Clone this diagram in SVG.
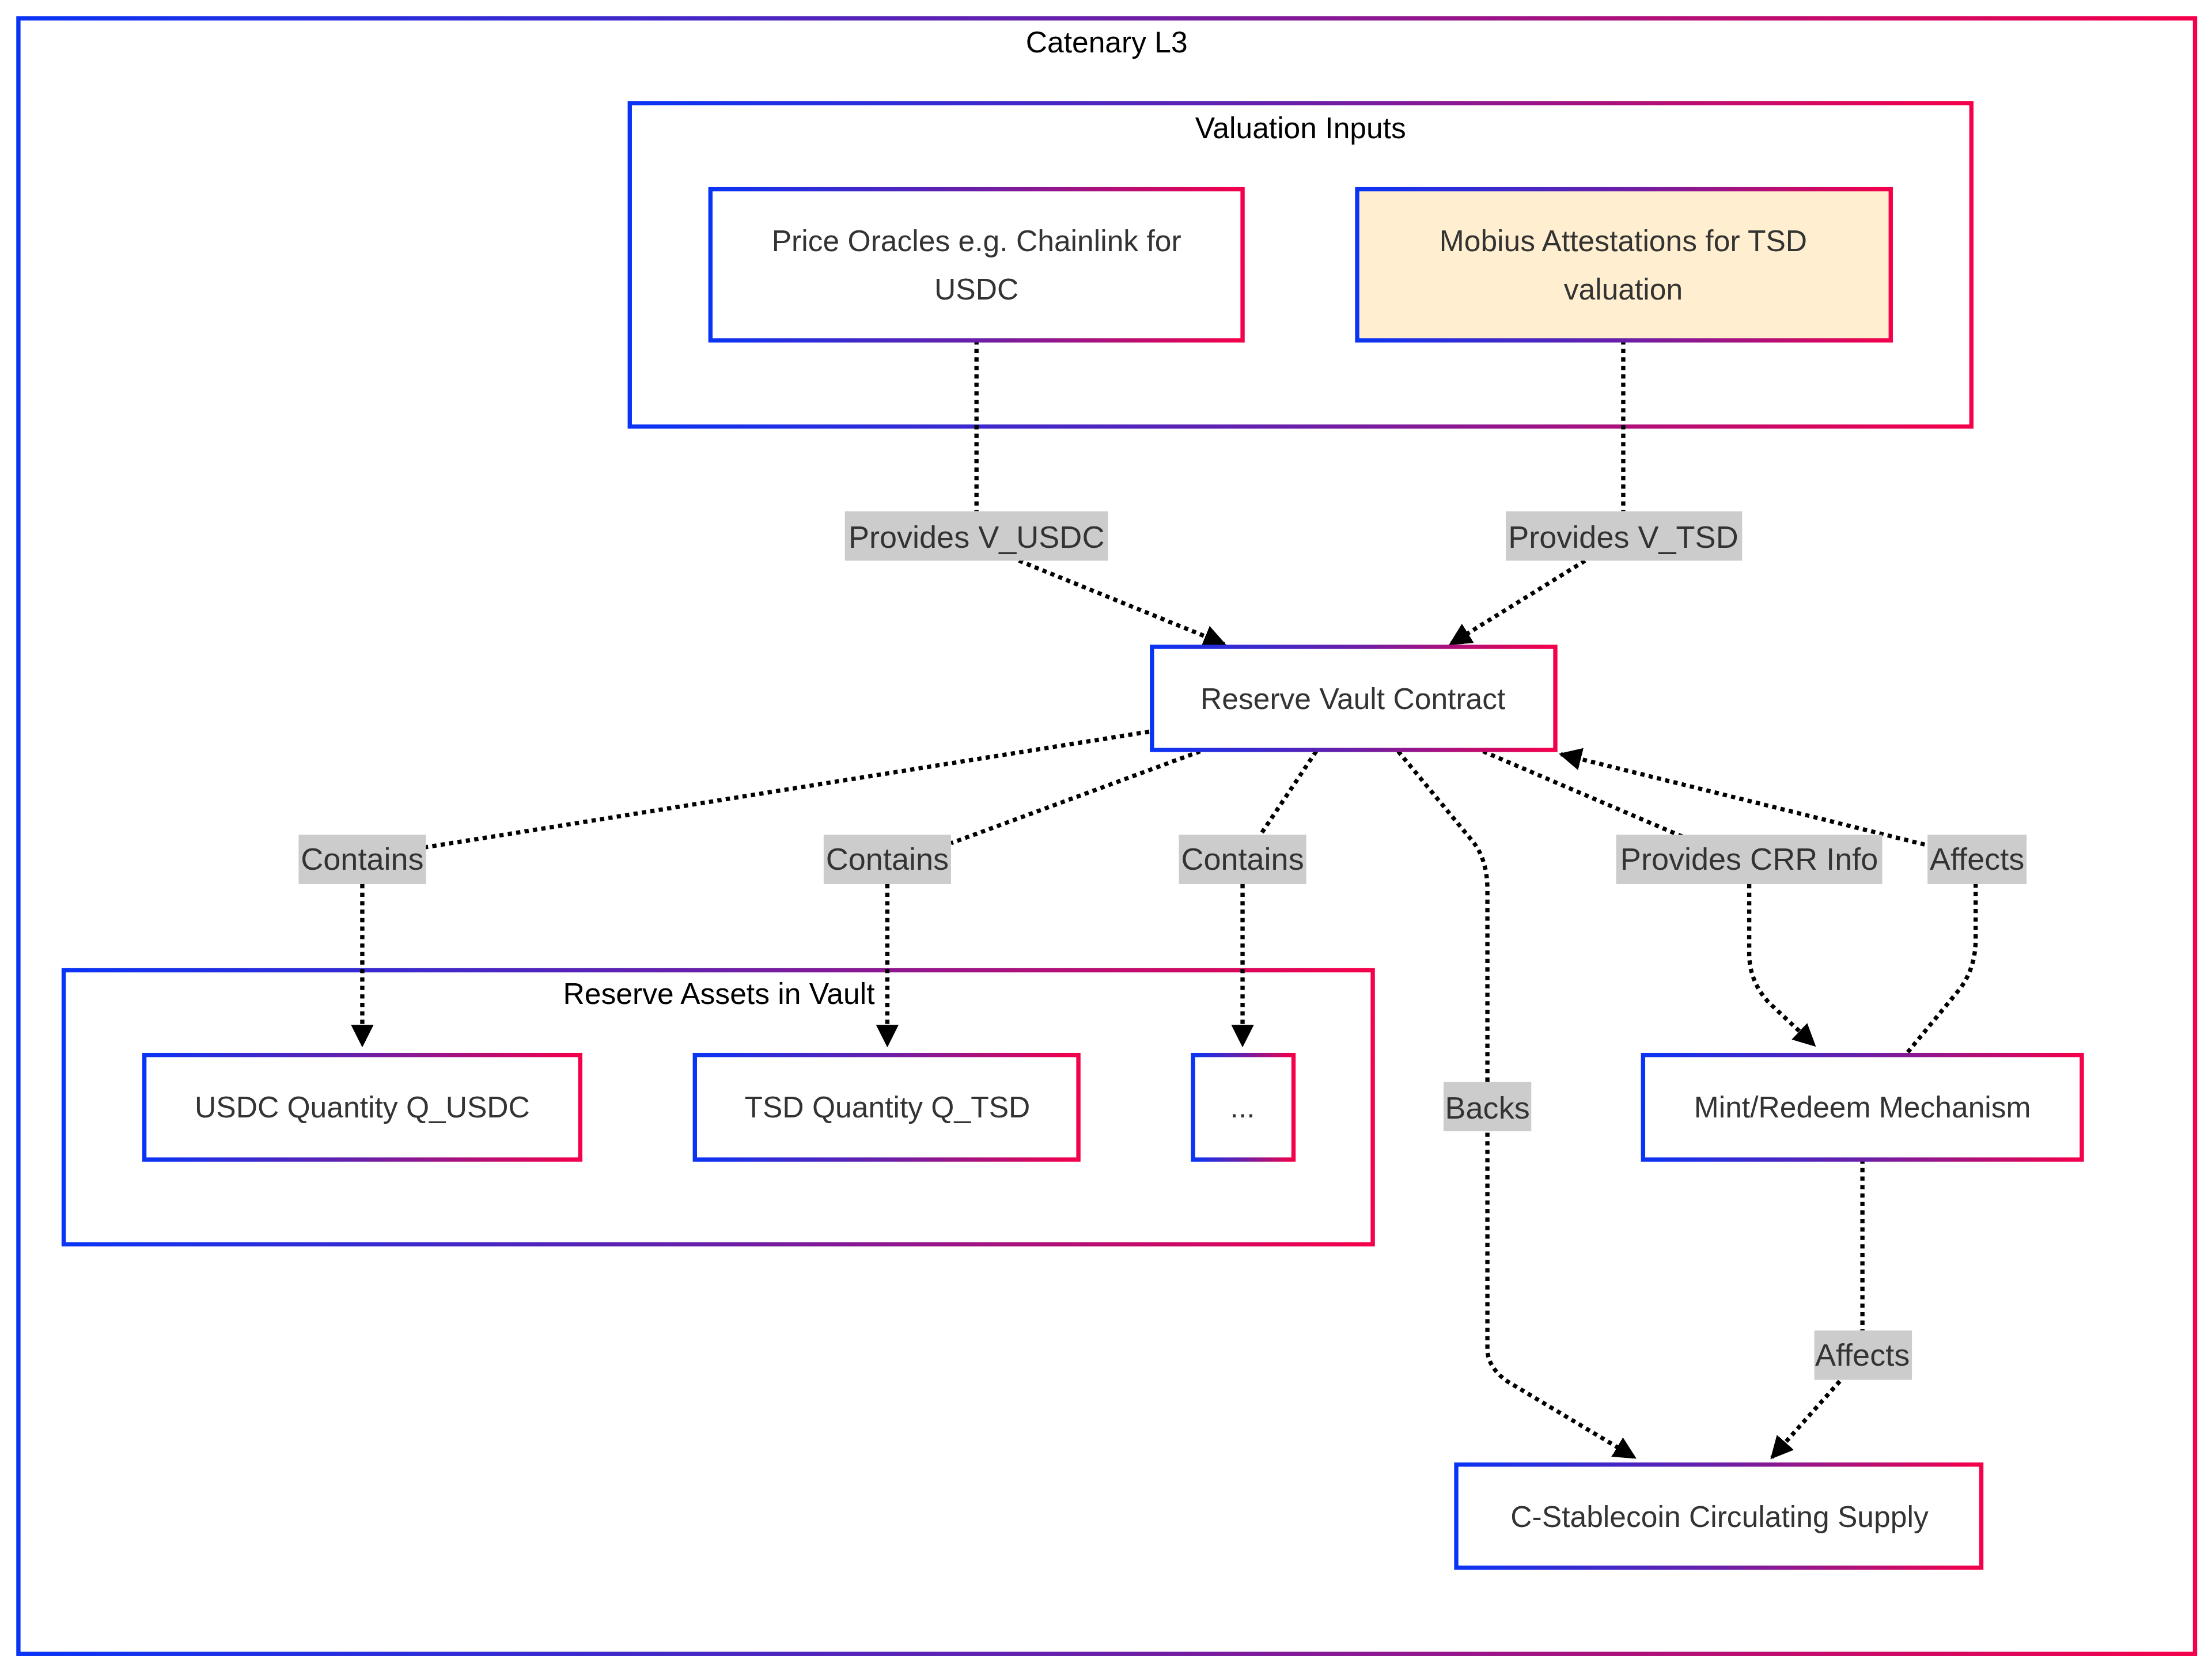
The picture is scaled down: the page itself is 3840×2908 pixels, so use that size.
<svg xmlns="http://www.w3.org/2000/svg" width="3840" height="2908" viewBox="0 0 3840 2908">
<defs>
<linearGradient id="g" x1="0" y1="0" x2="1" y2="0"><stop offset="0" stop-color="#0a34f5"/><stop offset="0.5" stop-color="#6a1fa8"/><stop offset="1" stop-color="#f5004a"/></linearGradient>
<marker id="a" viewBox="0 0 10 10" refX="9" refY="5" markerWidth="16" markerHeight="16" markerUnits="userSpaceOnUse" orient="auto"><path d="M0,0L10,5L0,10z" fill="#000"/></marker>
</defs>
<style>
.c{fill:none;stroke:url(#g);stroke-width:3}
.n{fill:#fff;stroke:url(#g);stroke-width:3}
.t{font-family:"Liberation Sans",Arial,sans-serif;font-size:21px;fill:#333;text-anchor:middle}
.ct{font-family:"Liberation Sans",Arial,sans-serif;font-size:21px;fill:#000;text-anchor:middle}
.e{fill:none;stroke:#000;stroke-width:3;stroke-dasharray:3 3}
.lb{fill:#cccccc}
.lt{font-family:"Liberation Sans",Arial,sans-serif;font-size:22px;fill:#333;text-anchor:middle}
</style>
<rect width="3840" height="2908" fill="#fff"/>
<g transform="scale(2.4568 2.452)">
<g id="catenary"><rect class="c" x="13" y="13" width="1538" height="1158"/><text class="ct" x="782" y="37">Catenary L3</text></g>
<g id="valuation"><rect class="c" x="445" y="73" width="948" height="229"/><text class="ct" x="919" y="98">Valuation Inputs</text></g>
<g id="reserveAssets"><rect class="c" x="45" y="687" width="925" height="194"/><text class="ct" x="508" y="711">Reserve Assets in Vault</text></g>
<g id="edges">
<path class="e" d="M690,241V362"/><path class="e" d="M720,397L865,456" marker-end="url(#a)"/>
<path class="e" d="M1147,241V362"/><path class="e" d="M1120,397L1025,456" marker-end="url(#a)"/>
<path class="e" d="M812,518L300,600"/><path class="e" d="M256,626V740" marker-end="url(#a)"/>
<path class="e" d="M848,532L672,597"/><path class="e" d="M627,626V740" marker-end="url(#a)"/>
<path class="e" d="M930,532L890,592"/><path class="e" d="M878,626V740" marker-end="url(#a)"/>
<path class="e" d="M988,532L1040,595Q1051,608 1051,630V766"/><path class="e" d="M1051,802V955Q1051,968 1065,978L1155,1032" marker-end="url(#a)"/>
<path class="e" d="M1048,532L1195,595"/><path class="e" d="M1236,626V675Q1236,695 1250,710L1282,740" marker-end="url(#a)"/>
<path class="e" d="M1348,745L1385,700Q1396,685 1396,665V626"/><path class="e" d="M1360,598L1103,534" marker-end="url(#a)"/>
<path class="e" d="M1316,821V942"/><path class="e" d="M1300,978L1252,1032" marker-end="url(#a)"/>
</g>
<g id="labels">
<rect class="lb" x="597" y="362" width="186" height="35"/><text class="lt" x="690" y="388">Provides V_USDC</text>
<rect class="lb" x="1064" y="362" width="167" height="35"/><text class="lt" x="1147" y="388">Provides V_TSD</text>
<rect class="lb" x="211" y="591" width="90" height="35"/><text class="lt" x="256" y="616">Contains</text>
<rect class="lb" x="582" y="591" width="90" height="35"/><text class="lt" x="627" y="616">Contains</text>
<rect class="lb" x="833" y="591" width="90" height="35"/><text class="lt" x="878" y="616">Contains</text>
<rect class="lb" x="1142" y="591" width="188" height="35"/><text class="lt" x="1236" y="616">Provides CRR Info</text>
<rect class="lb" x="1362" y="591" width="70" height="35"/><text class="lt" x="1397" y="616">Affects</text>
<rect class="lb" x="1020" y="766" width="62" height="35"/><text class="lt" x="1051" y="792">Backs</text>
<rect class="lb" x="1282" y="942" width="69" height="35"/><text class="lt" x="1316" y="967">Affects</text>
</g>
<g id="priceOracles"><rect class="n" x="502" y="134" width="376" height="107"/><text class="t" x="690" y="178">Price Oracles e.g. Chainlink for</text><text class="t" x="690" y="212">USDC</text></g>
<g id="mobius"><rect class="n" x="959" y="134" width="377" height="107" style="fill:#ffefd0"/><text class="t" x="1147" y="178">Mobius Attestations for TSD</text><text class="t" x="1147" y="212">valuation</text></g>
<g id="vault"><rect class="n" x="814" y="458" width="285" height="73"/><text class="t" x="956" y="502">Reserve Vault Contract</text></g>
<g id="usdc"><rect class="n" x="102" y="747" width="308" height="74"/><text class="t" x="256" y="791">USDC Quantity Q_USDC</text></g>
<g id="tsd"><rect class="n" x="491" y="747" width="271" height="74"/><text class="t" x="627" y="791">TSD Quantity Q_TSD</text></g>
<g id="more"><rect class="n" x="843" y="747" width="71" height="74"/><text class="t" x="878" y="791">...</text></g>
<g id="mint"><rect class="n" x="1161" y="747" width="310" height="74"/><text class="t" x="1316" y="791">Mint/Redeem Mechanism</text></g>
<g id="supply"><rect class="n" x="1029" y="1037" width="371" height="73"/><text class="t" x="1215" y="1081">C-Stablecoin Circulating Supply</text></g>
</g>
</svg>
